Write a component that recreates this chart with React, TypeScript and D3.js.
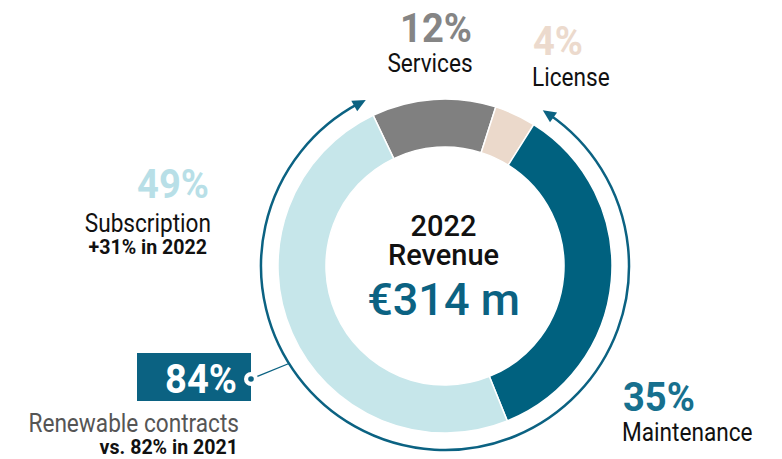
import React from "react";
import * as d3 from "d3";

// ---- data ----
const segments = ["Services", "License", "Maintenance", "Subscription"];
const shares = [12, 4, 35, 49];
const centerLines = ["2022", "Revenue", "€314 m"];
const subscriptionNote = "+31% in 2022";
const renewableShare = 84;
const renewableLabel = "Renewable contracts";
const renewableNote = "vs. 82% in 2021";

// ---- styles ----
const W = 782;
const H = 459;
const CX = 445;
const CY = 266;
const R_OUT = 167;
const R_IN = 119;
const R_RING = 184;
const START_DEG = -25.5;
const TEAL = "#0b6282";
const segColors: Record<string, string> = {
  Services: "#808080",
  License: "#ebd9cb",
  Maintenance: "#00617f",
  Subscription: "#c6e6ea",
};
const pctColors: Record<string, string> = {
  Services: "#858585",
  License: "#ecdacd",
  Maintenance: "#17708e",
  Subscription: "#b8dfe7",
};
const FONT = "Roboto, 'Noto Sans', sans-serif";

type LabelProps = {
  x: number;
  y: number;
  text: string;
  size: number;
  weight?: number | string;
  fill?: string;
  anchor?: "start" | "middle" | "end";
  sx?: number;
};
function Label({ x, y, text, size, weight = 400, fill = "#111", anchor = "start", sx = 1 }: LabelProps) {
  return (
    <text
      transform={`translate(${x},${y}) scale(${sx},1)`}
      textAnchor={anchor}
      fontFamily={FONT}
      fontSize={size}
      fontWeight={weight}
      fill={fill}
    >
      {text}
    </text>
  );
}

const pt = (theta: number, rho: number): [number, number] => [
  CX + rho * Math.sin(theta),
  CY - rho * Math.cos(theta),
];

export default function App() {
  const start = (START_DEG * Math.PI) / 180;
  const pie = d3
    .pie<number>()
    .sort(null)
    .value((d) => d)
    .startAngle(start)
    .endAngle(start + 2 * Math.PI);
  const arcs = pie(shares);
  const arcGen = d3.arc<d3.PieArcDatum<number>>().innerRadius(R_IN).outerRadius(R_OUT);

  // renewable ring spans Maintenance + Subscription
  const mIdx = segments.indexOf("Maintenance");
  const sIdx = segments.indexOf("Subscription");
  const ringA0 = arcs[mIdx].startAngle;
  const ringA1 = arcs[sIdx].endAngle;
  const AL = 13; // arrow length
  const AW = 6; // arrow half width
  const dA = AL / R_RING;
  const p = d3.path();
  p.arc(CX, CY, R_RING, ringA0 + dA * 0.6 - Math.PI / 2, ringA1 - dA * 0.6 - Math.PI / 2, false);
  const ringPath = p.toString();

  const arrow = (tip: number, dir: number) => {
    const base = tip - dir * dA;
    const a = pt(tip, R_RING);
    const b = pt(base, R_RING - AW);
    const c = pt(base, R_RING + AW);
    return `M${a[0]},${a[1]}L${b[0]},${b[1]}L${c[0]},${c[1]}Z`;
  };

  const connTheta = (238 * Math.PI) / 180;
  const connP = pt(connTheta, R_RING);
  const dot: [number, number] = [251, 379];

  const PCT = 41;
  const PCT_SX = 0.93;
  const LAB = 26;
  const LAB_SX = 0.87;
  const SUB = 20;
  const SUB_SX = 0.98;

  return (
    <svg
      width={W}
      height={H}
      viewBox={`0 0 ${W} ${H}`}
      style={{ position: "absolute", left: 0, top: 0, background: "#fff" }}
    >
      {/* donut */}
      <g>
        {arcs.map((a, i) => (
          <path
            key={segments[i]}
            d={arcGen(a) || ""}
            transform={`translate(${CX},${CY})`}
            fill={segColors[segments[i]]}
            stroke="#fff"
            strokeWidth={1.5}
          />
        ))}
      </g>

      {/* renewable ring with arrows */}
      <path d={ringPath} fill="none" stroke={TEAL} strokeWidth={2.5} />
      <path d={arrow(ringA1, 1)} fill={TEAL} />
      <path d={arrow(ringA0, -1)} fill={TEAL} />

      {/* connector + 84% box */}
      <line x1={dot[0]} y1={dot[1]} x2={connP[0]} y2={connP[1]} stroke={TEAL} strokeWidth={1.3} />
      <rect x={137} y={353} width={114} height={48} fill={TEAL} />
      <circle cx={dot[0]} cy={dot[1]} r={7} fill="#fff" />
      <circle cx={dot[0]} cy={dot[1]} r={2.8} fill={TEAL} />
      <Label x={237} y={393} text={`${renewableShare}%`} size={PCT} weight={700} fill="#fff" anchor="end" sx={PCT_SX} />
      <Label x={239} y={432} text={renewableLabel} size={LAB} fill="#555" anchor="end" sx={LAB_SX} />
      <Label x={238} y={454} text={renewableNote} size={SUB} weight={700} fill="#111" anchor="end" sx={SUB_SX} />

      {/* Services */}
      <Label x={436} y={42} text={`${shares[0]}%`} size={PCT} weight={700} fill={pctColors.Services} anchor="middle" sx={PCT_SX} />
      <Label x={430} y={72} text={segments[0]} size={LAB} anchor="middle" sx={LAB_SX} />

      {/* License */}
      <Label x={533} y={55} text={`${shares[1]}%`} size={PCT} weight={700} fill={pctColors.License} anchor="start" sx={PCT_SX} />
      <Label x={532} y={86} text={segments[1]} size={LAB} anchor="start" sx={LAB_SX} />

      {/* Maintenance */}
      <Label x={623} y={411} text={`${shares[2]}%`} size={PCT} weight={700} fill={pctColors.Maintenance} anchor="start" sx={PCT_SX} />
      <Label x={622} y={441} text={segments[2]} size={LAB} anchor="start" sx={LAB_SX} />

      {/* Subscription */}
      <Label x={209} y={198} text={`${shares[3]}%`} size={PCT} weight={700} fill={pctColors.Subscription} anchor="end" sx={PCT_SX} />
      <Label x={211} y={232} text={segments[3]} size={LAB} anchor="end" sx={LAB_SX} />
      <Label x={207} y={254} text={subscriptionNote} size={SUB} weight={700} anchor="end" sx={SUB_SX} />

      {/* center */}
      <Label x={443.5} y={236} text={centerLines[0]} size={29} weight={500} anchor="middle" />
      <Label x={443.5} y={265} text={centerLines[1]} size={29} weight={500} anchor="middle" />
      <Label x={443.5} y={315} text={centerLines[2]} size={45} weight={500} fill={TEAL} anchor="middle" />
    </svg>
  );
}
